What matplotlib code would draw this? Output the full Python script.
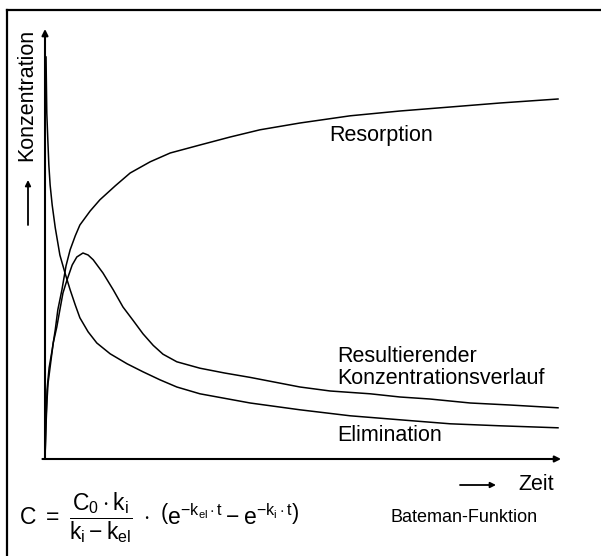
# coding = utf-8

"""
    Bateman-Funktion: Resorption, Elimination und resultierender Verlauf
"""
from matplotlib import pyplot as plt
from matplotlib.lines import Line2D

plt.rcParams['font.family'] = ['Liberation Sans', 'DejaVu Sans']
plt.rcParams['mathtext.fontset'] = 'custom'
plt.rcParams['mathtext.rm'] = 'Liberation Sans'
plt.rcParams['mathtext.it'] = 'Liberation Sans'
plt.rcParams['mathtext.bf'] = 'Liberation Sans:bold'

# Werte (Zeit 0..10, Konzentration 0..100)
t_res = [0, 0.02, 0.04, 0.08, 0.14, 0.2, 0.25, 0.33, 0.41, 0.49, 0.59, 0.68,
         0.88, 1.07, 1.37, 1.66, 2.05, 2.44, 3.02, 3.61, 4.19, 4.97, 5.95,
         6.92, 7.9, 8.87, 10]
resorption = [0, 9.8, 17.3, 22.8, 27.3, 32.3, 37.3, 42.3, 48.3, 52.3, 55.8, 58.5,
              62, 64.8, 68.3, 71.5, 74.3, 76.5, 78.5, 80.5, 82.3, 84, 85.8,
              87, 88, 89, 90]

t_ges = [0, 0.02, 0.04, 0.06, 0.1, 0.16, 0.23, 0.29, 0.35, 0.43, 0.53, 0.62,
         0.74, 0.84, 0.94, 1.13, 1.33, 1.52, 1.72, 1.91, 2.11, 2.3, 2.57, 3.02,
         3.5, 4.0, 4.97, 5.56, 6.34, 6.92, 7.5, 8.29, 9.06, 10]
verlauf = [0, 8.5, 14.8, 19, 23, 29, 33, 37.3, 41.5, 44.8, 48.5, 50.5,
           51.5, 51, 49.8, 46.5, 42.3, 38, 34.6, 31.3, 28.4, 26.2, 24.3, 22.7,
           21.5, 20.4, 18, 17, 16.3, 15.5, 15, 14, 13.5, 12.8]

t_eli = [0.02, 0.035, 0.055, 0.075, 0.1, 0.14, 0.2, 0.29, 0.39, 0.49, 0.59, 0.68,
         0.84, 1.01, 1.27, 1.6, 1.91, 2.24, 2.57, 3.02, 4.0, 4.97, 5.95, 6.92,
         7.9, 8.87, 10]
elimination = [100.5, 86.5, 79.8, 73.5, 68.5, 63.5, 57.8, 51, 46.5, 42.3, 38.5, 35.3,
               31.8, 29, 26.3, 23.8, 21.8, 19.8, 18, 16.3, 14, 12.3, 10.8, 9.8,
               8.8, 8.3, 7.8]

W, H = 601, 556


def fx(px):
    return px / W


def fy(py):
    return 1 - py / H


fig = plt.figure(figsize=(6.01, 5.56), dpi=100)

# Rahmen (nur oben und links sichtbar)
fig.add_artist(Line2D([fx(7), 1.0], [fy(10), fy(10)], color='black', lw=1.6))
fig.add_artist(Line2D([fx(7), fx(7)], [fy(10), 0.0], color='black', lw=1.6))

ax = fig.add_axes([fx(45), fy(459), fx(558) - fx(45), fy(59) - fy(459)])
ax.set_xlim(0, 10)
ax.set_ylim(0, 100)
ax.axis('off')

ax.plot(t_res, resorption, color='black', lw=1.1, clip_on=False)
ax.plot(t_ges, verlauf, color='black', lw=1.1, clip_on=False)
ax.plot(t_eli, elimination, color='black', lw=1.1, clip_on=False)

# Achsen mit Pfeilen
arr = dict(arrowstyle='-|>', color='black', lw=1.5, mutation_scale=9,
           shrinkA=0, shrinkB=0)
ax.annotate('', xy=(0, 107.5), xytext=(0, 0), arrowprops=arr, annotation_clip=False)
ax.annotate('', xy=(10.06, 0), xytext=(-0.05, 0), arrowprops=arr, annotation_clip=False)

fs = 15.5
ax.text(5.54, 81, 'Resorption', fontsize=fs, va='center', ha='left')
ax.text(5.69, 25.5, 'Resultierender', fontsize=fs, va='center', ha='left')
ax.text(5.69, 20.2, 'Konzentrationsverlauf', fontsize=fs, va='center', ha='left')
ax.text(5.69, 5.9, 'Elimination', fontsize=fs, va='center', ha='left')

# y-Beschriftung mit Pfeil
fig.text(fx(27), fy(95), 'Konzentration', fontsize=fs, rotation=90,
         ha='center', va='center')
small = dict(arrowstyle='-|>', color='black', lw=1.3, mutation_scale=8,
             shrinkA=0, shrinkB=0)
fig.add_artist(plt.Annotation('', xy=(fx(28), fy(180)), xytext=(fx(28), fy(225)),
                              xycoords='figure fraction', arrowprops=small))

# x-Beschriftung mit Pfeil
fig.add_artist(plt.Annotation('', xy=(fx(496), fy(485)), xytext=(fx(460), fy(485)),
                              xycoords='figure fraction', arrowprops=small))
fig.text(fx(518), fy(485), 'Zeit', fontsize=fs, ha='left', va='center')

# Formel
formel = (r'$\mathrm{C\ =\ \dfrac{C_0\cdot k_i}{k_i - k_{el}}\ \cdot\ '
          r'\left(e^{-k_{el}\cdot t} - e^{-k_i\cdot t}\right)}$')
fig.text(fx(19), fy(518), formel, fontsize=16.5, ha='left', va='center')
fig.text(fx(391), fy(517), 'Bateman-Funktion', fontsize=13, ha='left', va='center')

plt.savefig('out.png', dpi=100)
